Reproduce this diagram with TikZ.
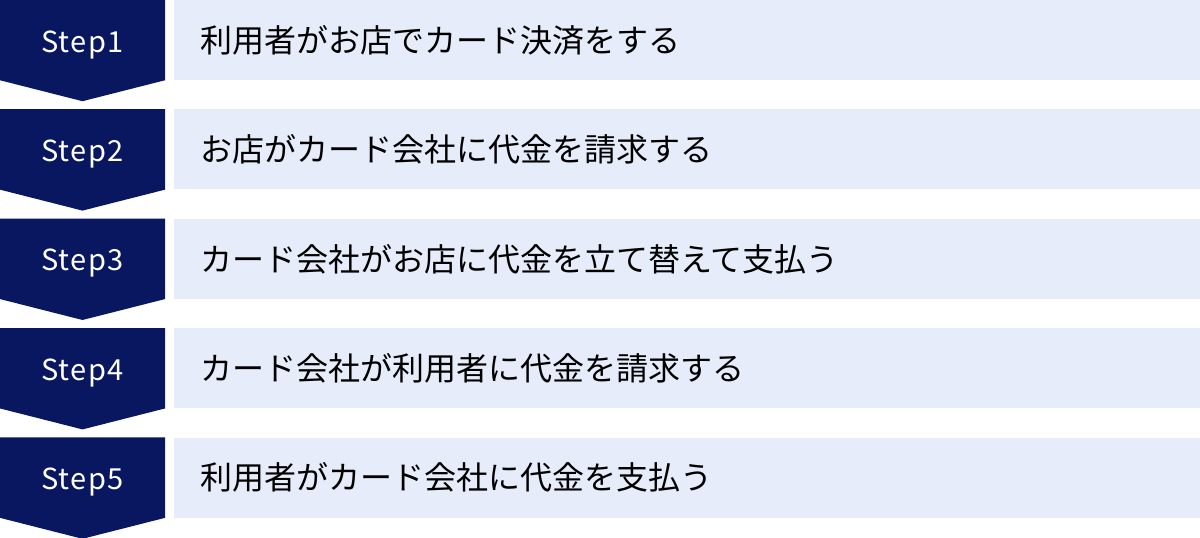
\documentclass[tikz,border=0pt]{standalone}
\usepackage{fontspec}
\setmainfont{Noto Sans CJK JP}
\newfontfamily\steplabelfont[LetterSpace=5]{Noto Sans CJK JP}
\usetikzlibrary{positioning,calc,backgrounds}
\definecolor{navy}{HTML}{08175F}
\definecolor{paleblue}{HTML}{E6ECF9}

\begin{document}
\begin{tikzpicture}[
        stepbox/.style={text=white, minimum width=165pt, minimum height=80pt, inner sep=0pt, text height=24pt, text depth=0pt, font=\steplabelfont\fontsize{29}{34}\selectfont},
        block/.style={fill=paleblue, minimum width=1026pt, minimum height=80pt, inner xsep=26pt, inner ysep=0pt, text width=974pt, align=left, font=\fontsize{32}{38}\selectfont}
    ]
        \useasboundingbox (0,0) rectangle (1200pt,-538pt);

        \node [stepbox] (s1) at (82.5pt,-40pt) {Step1};
        \node [stepbox, below=29pt of s1] (s2) {Step2};
        \node [stepbox, below=29pt of s2] (s3) {Step3};
        \node [stepbox, below=29pt of s3] (s4) {Step4};
        \node [stepbox, below=29pt of s4] (s5) {Step5};

        % navy chevrons behind the step labels
        \begin{scope}[on background layer]
            \fill [navy] (s1.north west) -- (s1.north east) -- (s1.south east) -- ($(s1.south)+(0,-21pt)$) -- (s1.south west) -- cycle;
            \fill [navy] (s2.north west) -- (s2.north east) -- (s2.south east) -- ($(s2.south)+(0,-21pt)$) -- (s2.south west) -- cycle;
            \fill [navy] (s3.north west) -- (s3.north east) -- (s3.south east) -- ($(s3.south)+(0,-21pt)$) -- (s3.south west) -- cycle;
            \fill [navy] (s4.north west) -- (s4.north east) -- (s4.south east) -- ($(s4.south)+(0,-21pt)$) -- (s4.south west) -- cycle;
            \fill [navy] (s5.north west) -- (s5.north east) -- (s5.south east) -- ($(s5.south)+(0,-21pt)$) -- (s5.south west) -- cycle;
        \end{scope}

        \node [block, right=9pt of s1] (t1) {利用者がお店でカード決済をする};
        \node [block, right=9pt of s2] (t2) {お店がカード会社に代金を請求する};
        \node [block, right=9pt of s3] (t3) {カード会社がお店に代金を立て替えて支払う};
        \node [block, right=9pt of s4] (t4) {カード会社が利用者に代金を請求する};
        \node [block, right=9pt of s5] (t5) {利用者がカード会社に代金を支払う};
    \end{tikzpicture}
\end{document}
